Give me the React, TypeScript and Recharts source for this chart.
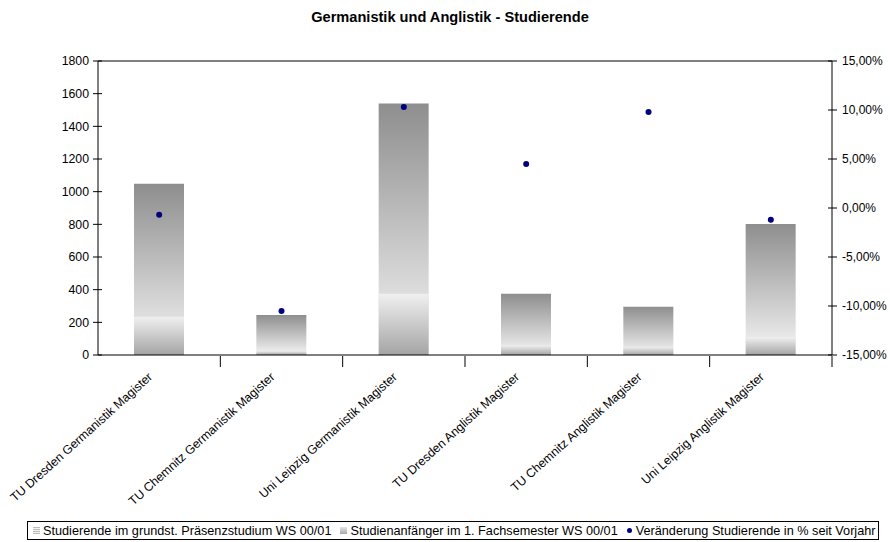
import { ComposedChart, Bar, Scatter, XAxis, YAxis, ReferenceLine } from 'recharts'

const categories = [
  'TU Dresden Germanistik Magister',
  'TU Chemnitz Germanistik Magister',
  'Uni Leipzig Germanistik Magister',
  'TU Dresden Anglistik Magister',
  'TU Chemnitz Anglistik Magister',
  'Uni Leipzig Anglistik Magister',
]
const studierende = [1048, 245, 1540, 375, 296, 802]
const anfaenger = [234, 25, 375, 60, 50, 110]
const veraenderung = [-0.7, -10.5, 10.3, 4.5, 9.8, -1.2]

const leftTicks = [0, 200, 400, 600, 800, 1000, 1200, 1400, 1600, 1800]
const rightTicks = [-15, -10, -5, 0, 5, 10, 15]

const seriesNames = [
  'Studierende im grundst. Präsenzstudium WS 00/01',
  'Studienanfänger im 1. Fachsemester WS 00/01',
  'Veränderung Studierende in % seit Vorjahr',
]

const data = categories.map((name, i) => ({
  name,
  studierende: studierende[i],
  anfaenger: anfaenger[i],
  veraenderung: veraenderung[i],
}))

const FONT = 'Arial, "Liberation Sans", sans-serif'
const BAND = 734 / 6
const pct = (v: number) => v.toFixed(2).replace('.', ',') + '%'

function CategoryTick(props: any) {
  const { x, y, payload } = props
  return (
    <g>
      <line x1={x + BAND / 2} y1={y - 7} x2={x + BAND / 2} y2={y + 4} stroke="#000" />
      <text
        transform={`translate(${x - 6},${y + 15}) rotate(-42)`}
        textAnchor="end"
        fontSize={12.3}
        fontFamily={FONT}
        fill="#000"
      >
        {payload.value}
      </text>
    </g>
  )
}

// Excel-style "cross" tick marks on the value axes
function LeftTick(props: any) {
  const { x, y, payload } = props
  const ax = x + 3
  return (
    <g>
      <line x1={ax - 5} y1={y} x2={ax + 4} y2={y} stroke="#000" />
      <text x={ax - 9} y={y} dy="0.355em" textAnchor="end" fontSize={12.3} fontFamily={FONT} fill="#000">
        {payload.value}
      </text>
    </g>
  )
}

function RightTick(props: any) {
  const { x, y, payload } = props
  const ax = x - 3
  return (
    <g>
      <line x1={ax - 4} y1={y} x2={ax + 5} y2={y} stroke="#000" />
      <text x={ax + 10} y={y} dy="0.355em" textAnchor="start" fontSize={12} fontFamily={FONT} fill="#000">
        {pct(payload.value)}
      </text>
    </g>
  )
}

function Legend() {
  const item = { display: 'flex', alignItems: 'center', marginRight: 9 }
  return (
    <div
      style={{
        position: 'absolute',
        left: 27,
        top: 521,
        width: 852,
        height: 19,
        border: '1px solid #000',
        display: 'flex',
        alignItems: 'center',
        fontFamily: FONT,
        fontSize: 12.7,
        paddingLeft: 5,
        boxSizing: 'border-box',
        whiteSpace: 'nowrap',
      }}
    >
      <span style={item}>
        <span style={{ width: 7, height: 7, marginRight: 3, background: 'repeating-linear-gradient(#bbb 0 1px, #f4f4f4 1px 2px)' }} />
        {seriesNames[0]}
      </span>
      <span style={item}>
        <span style={{ width: 7, height: 7, marginRight: 3, background: 'linear-gradient(#e6e6e6, #a8a8a8)' }} />
        {seriesNames[1]}
      </span>
      <span style={item}>
        <span style={{ width: 5, height: 5, borderRadius: '50%', marginRight: 4, background: '#000080' }} />
        {seriesNames[2]}
      </span>
    </div>
  )
}

export default function App() {
  return (
    <div style={{ position: 'absolute', left: 0, top: 0, width: 890, height: 542, background: '#fff' }}>
      <div
        style={{
          position: 'absolute',
          top: 9,
          width: 900,
          textAlign: 'center',
          fontFamily: FONT,
          fontSize: 14.6,
          fontWeight: 'bold',
        }}
      >
        Germanistik und Anglistik - Studierende
      </div>
      <ComposedChart
        width={890}
        height={542}
        data={data}
        margin={{ top: 61, right: 0, bottom: 37, left: 0 }}
        barGap={-50}
        barSize={50}
      >
        <defs>
          <linearGradient id="gradStud" x1="0" y1="0" x2="0" y2="1">
            <stop offset="0%" stopColor="#8e8e8e" />
            <stop offset="100%" stopColor="#f6f6f6" />
          </linearGradient>
          <linearGradient id="gradAnf" x1="0" y1="0" x2="0" y2="1">
            <stop offset="0%" stopColor="#f0f0f0" />
            <stop offset="100%" stopColor="#a4a4a4" />
          </linearGradient>
        </defs>
        <XAxis
          dataKey="name"
          height={150}
          axisLine={{ stroke: '#000' }}
          tickLine={false}
          tick={<CategoryTick />}
          interval={0}
        />
        <YAxis
          yAxisId="left"
          width={98}
          domain={[0, 1800]}
          ticks={leftTicks}
          interval={0}
          axisLine={{ stroke: '#000' }}
          tickLine={false}
          tickSize={0}
          tickMargin={3}
          tick={<LeftTick />}
        />
        <YAxis
          yAxisId="right"
          orientation="right"
          width={58}
          domain={[-15, 15]}
          ticks={rightTicks}
          interval={0}
          axisLine={{ stroke: '#000' }}
          tickLine={false}
          tickSize={0}
          tickMargin={3}
          tick={<RightTick />}
        />
        <ReferenceLine yAxisId="left" y={1800} stroke="#000" />
        <Bar yAxisId="left" dataKey="studierende" fill="url(#gradStud)" isAnimationActive={false} />
        <Bar yAxisId="left" dataKey="anfaenger" fill="url(#gradAnf)" isAnimationActive={false} />
        <Scatter
          yAxisId="right"
          dataKey="veraenderung"
          fill="#000080"
          shape={(p: any) => <circle cx={p.cx} cy={p.cy} r={3} fill="#000080" />}
          isAnimationActive={false}
        />
      </ComposedChart>
      <Legend />
    </div>
  )
}
